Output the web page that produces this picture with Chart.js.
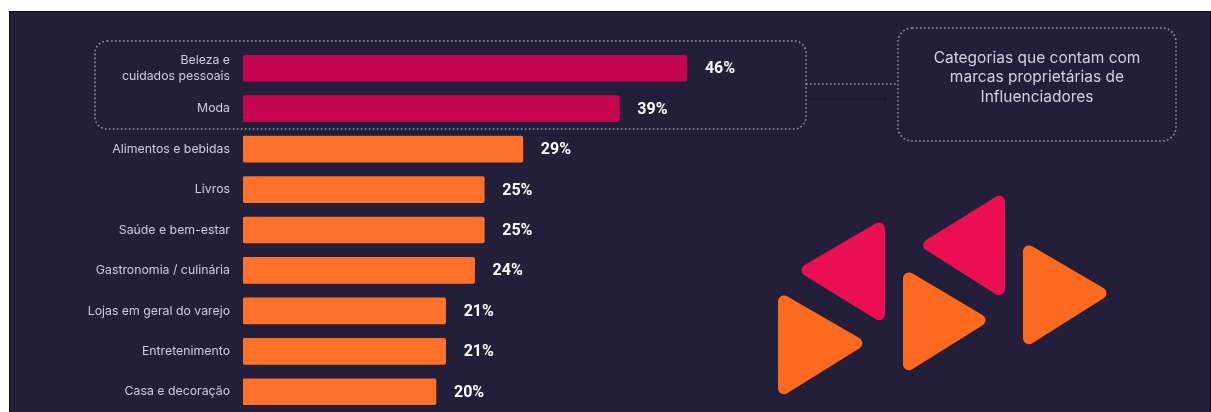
<!DOCTYPE html>
<html>
<head>
<meta charset="utf-8">
<script src="https://cdn.jsdelivr.net/npm/chart.js@4.4.1/dist/chart.umd.min.js"></script>
<style>
  html, body { margin: 0; padding: 0; background: #fff; }
  #wrap { width: 1211px; height: 412px; }
</style>
</head>
<body>
<div id="wrap"><canvas id="brandsChart" width="1211" height="412"></canvas></div>
<script>
// categories and share of influencers (%) per category
const categories = [
  ['Beleza e', 'cuidados pessoais'],
  'Moda',
  'Alimentos e bebidas',
  'Livros',
  'Saúde e bem-estar',
  'Gastronomia / culinária',
  'Lojas em geral do varejo',
  'Entretenimento',
  'Casa e decoração'
];
const shares = [46, 39, 29, 25, 25, 24, 21, 21, 20];
// categories that have influencer-owned brands
const ownBrands = [true, true, false, false, false, false, false, false, false];
const calloutLines = ['Categorias que contam com', 'marcas proprietárias de', 'Influenciadores'];

const BG = '#231f3b';
const PINK_BAR = '#c5054f';
const ORANGE_BAR = '#fd7228';
const PINK_LOGO = '#ec0e52';
const ORANGE_LOGO = '#fc6a1f';
const DOTS = 'rgba(186,184,206,0.75)';

function dottedRoundRect(ctx, x, y, w, h, r) {
  ctx.save();
  ctx.strokeStyle = DOTS;
  ctx.lineWidth = 1.6;
  ctx.setLineDash([1.6, 2.4]);
  ctx.beginPath();
  ctx.roundRect(x, y, w, h, r);
  ctx.stroke();
  ctx.restore();
}

// triangle with softened corners
function roundTri(ctx, pts, r, color) {
  ctx.beginPath();
  const n = pts.length;
  const mid = (a, b) => [(a[0] + b[0]) / 2, (a[1] + b[1]) / 2];
  const start = mid(pts[n - 1], pts[0]);
  ctx.moveTo(start[0], start[1]);
  for (let i = 0; i < n; i++) {
    const p = pts[i], q = pts[(i + 1) % n];
    ctx.arcTo(p[0], p[1], q[0], q[1], r);
  }
  ctx.closePath();
  ctx.fillStyle = color;
  ctx.fill();
}

const decorPlugin = {
  id: 'decor',
  beforeDraw(chart) {
    const ctx = chart.ctx;
    ctx.save();
    ctx.fillStyle = '#fff';
    ctx.fillRect(0, 0, chart.width, chart.height);
    ctx.fillStyle = '#0d0c14';
    ctx.fillRect(9, 11, chart.width - 9, chart.height - 11);
    ctx.fillStyle = BG;
    ctx.fillRect(10, 12, chart.width - 11, chart.height - 12);
    ctx.restore();
  },
  beforeDatasetsDraw(chart) {
    const ctx = chart.ctx;
    // box around the highlighted categories
    dottedRoundRect(ctx, 95, 41, 711, 88, 12);
    // callout box
    dottedRoundRect(ctx, 898, 28, 278, 113, 14);

    ctx.save();
    ctx.strokeStyle = DOTS;
    ctx.lineWidth = 1.6;
    ctx.setLineDash([1.6, 2.4]);
    ctx.beginPath();
    ctx.moveTo(806, 84);
    ctx.lineTo(898, 84);
    ctx.stroke();
    ctx.setLineDash([]);
    ctx.strokeStyle = '#17152b';
    ctx.lineWidth = 1.2;
    ctx.beginPath();
    ctx.moveTo(808, 99);
    ctx.lineTo(885, 99);
    ctx.stroke();
    ctx.fillStyle = '#17152b';
    ctx.beginPath();
    ctx.arc(885, 99, 1.8, 0, Math.PI * 2);
    ctx.fill();

    ctx.fillStyle = '#d3d1dd';
    ctx.font = '15.5px Inter';
    ctx.textAlign = 'center';
    ctx.textBaseline = 'middle';
    calloutLines.forEach((line, i) => ctx.fillText(line, 1037, 58 + i * 19.5));

    // logo
    roundTri(ctx, [[796, 270], [885, 218], [885, 325]], 6, PINK_LOGO);
    roundTri(ctx, [[918, 245], [1005, 191], [1005, 300]], 6, PINK_LOGO);
    roundTri(ctx, [[778, 291], [868, 343], [778, 399]], 6, ORANGE_LOGO);
    roundTri(ctx, [[903, 268], [991, 320], [903, 375]], 6, ORANGE_LOGO);
    roundTri(ctx, [[1023, 241], [1112, 293], [1023, 349]], 6, ORANGE_LOGO);
    ctx.restore();
  },
  afterDatasetsDraw(chart) {
    const ctx = chart.ctx;
    const meta = chart.getDatasetMeta(0);
    ctx.save();
    ctx.fillStyle = '#fff';
    ctx.font = 'bold 16px Roboto';
    ctx.textAlign = 'left';
    ctx.textBaseline = 'middle';
    meta.data.forEach((bar, i) => {
      ctx.fillText(shares[i] + '%', bar.x + 18, bar.y + 1);
    });
    ctx.restore();
  }
};

new Chart(document.getElementById('brandsChart'), {
  type: 'bar',
  data: {
    labels: categories,
    datasets: [{
      data: shares,
      backgroundColor: ownBrands.map(o => o ? PINK_BAR : ORANGE_BAR),
      barThickness: 26,
      borderRadius: 2,
      borderSkipped: false
    }]
  },
  options: {
    indexAxis: 'y',
    responsive: false,
    animation: false,
    layout: { padding: { top: 48, bottom: 0, left: 0, right: 3 } },
    plugins: { legend: { display: false }, tooltip: { enabled: false } },
    scales: {
      x: { display: false, min: 0, max: 100 },
      y: {
        grid: { display: false },
        border: { display: false },
        ticks: {
          color: '#cfcce0',
          padding: 5,
          font: { family: 'Inter', size: 12.3, lineHeight: 1.25 }
        },
        afterFit(scale) {
          scale.width = 243;
          scale.paddingTop = 0;
          scale.paddingBottom = 0;
        }
      }
    }
  },
  plugins: [decorPlugin]
});
</script>
</body>
</html>
